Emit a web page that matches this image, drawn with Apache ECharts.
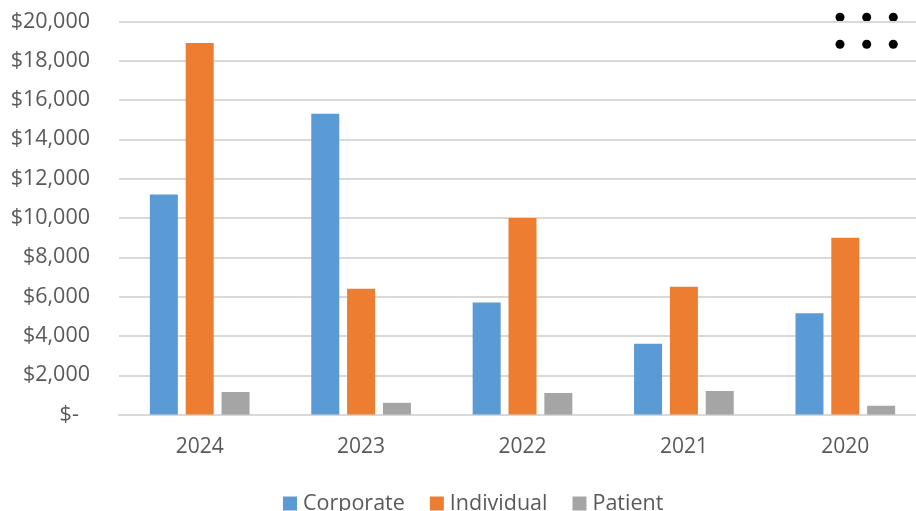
<!DOCTYPE html>
<html>
<head>
<meta charset="utf-8">
<script src="https://cdn.jsdelivr.net/npm/echarts@6/dist/echarts.min.js"></script>
<style>
html,body{margin:0;padding:0;background:#fff;}
#c{width:916px;height:511px;}
</style>
</head>
<body>
<div id="c"></div>
<script>
var categories = ['2024', '2023', '2022', '2021', '2020'];
var corporate = [11200, 15300, 5700, 3600, 5150];
var individual = [18900, 6400, 10000, 6500, 9000];
var patient = [1150, 600, 1100, 1200, 450];
var seriesNames = ['Corporate', 'Individual', 'Patient'];
var colors = ['#5B9BD5', '#ED7D31', '#A5A5A5'];

var chart = echarts.init(document.getElementById('c'));
var fontFam = '"Open Sans", sans-serif';
function fmt(v) {
  if (v === 0) return '$-  ';
  return '$' + v.toLocaleString('en-US');
}
var dots = [];
var dx = [840, 866.7, 893.3], dy = [17.3, 44.3];
dy.forEach(function (y) {
  dx.forEach(function (x) {
    dots.push({ type: 'circle', shape: { cx: x, cy: y, r: 4.5 }, style: { fill: '#000' } });
  });
});
chart.setOption({
  animation: false,
  color: colors,
  grid: { left: 119, width: 807, top: 21.4, bottom: 96.4, outerBoundsMode: 'none', containLabel: false },
  legend: {
    top: 492.5,
    left: 283,
    padding: 0,
    itemWidth: 14,
    itemHeight: 14,
    itemGap: 25,
    icon: 'rect',
    textStyle: { fontFamily: fontFam, fontSize: 21.5, color: '#595959', padding: [0, 0, 0, 1] },
    data: seriesNames
  },
  xAxis: {
    type: 'category',
    data: categories,
    axisLine: { lineStyle: { color: '#d9d9d9', width: 2 } },
    axisTick: { show: false },
    axisLabel: { fontFamily: fontFam, fontSize: 21, color: '#595959', margin: 22 }
  },
  yAxis: {
    type: 'value',
    min: 0,
    max: 20000,
    interval: 2000,
    axisLine: { show: false },
    axisTick: { show: false },
    splitLine: { lineStyle: { color: '#d9d9d9', width: 2 } },
    axisLabel: { fontFamily: fontFam, fontSize: 21.5, color: '#595959', margin: 29, formatter: fmt }
  },
  series: [
    { name: seriesNames[0], type: 'bar', data: corporate, barWidth: 28, barGap: '28%' },
    { name: seriesNames[1], type: 'bar', data: individual, barWidth: 28, barGap: '28%' },
    { name: seriesNames[2], type: 'bar', data: patient, barWidth: 28, barGap: '28%' }
  ],
  graphic: dots
});
</script>
</body>
</html>
